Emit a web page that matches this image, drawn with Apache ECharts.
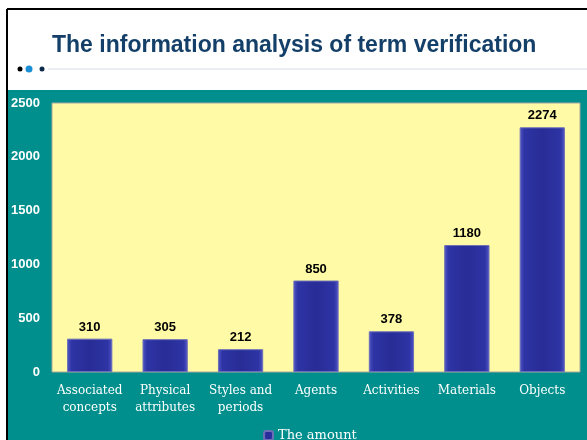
<!DOCTYPE html>
<html>
<head>
<meta charset="utf-8">
<script src="https://cdn.jsdelivr.net/npm/echarts@6/dist/echarts.min.js"></script>
<style>
  html, body { margin: 0; padding: 0; background: #fff; }
  #chart { width: 587px; height: 440px; }
</style>
</head>
<body>
<div id="chart"></div>
<script>
const categories = ['Associated\nconcepts', 'Physical\nattributes', 'Styles and\nperiods', 'Agents', 'Activities', 'Materials', 'Objects'];
const amounts = [310, 305, 212, 850, 378, 1180, 2274];
const yTicks = [0, 500, 1000, 1500, 2000, 2500];

const chart = echarts.init(document.getElementById('chart'));

const barColor = new echarts.graphic.LinearGradient(0, 0, 1, 0, [
    { offset: 0, color: '#5257c8' },
    { offset: 0.1, color: '#2e34a4' },
    { offset: 0.5, color: '#272c96' },
    { offset: 0.9, color: '#2e34a4' },
    { offset: 1, color: '#5257c8' }
]);

const option = {
    backgroundColor: '#ffffff',
    animation: false,
    graphic: [
        // teal panel
        { type: 'rect', z: -10, shape: { x: 8, y: 90, width: 579, height: 350 }, style: { fill: '#008f8c' } },
        // frame lines
        { type: 'line', shape: { x1: 7, y1: 9, x2: 587, y2: 9 }, style: { stroke: '#000', lineWidth: 2 } },
        { type: 'line', shape: { x1: 7, y1: 9, x2: 7, y2: 440 }, style: { stroke: '#000', lineWidth: 2 } },
        // title
        { type: 'text', left: 52, top: 34, style: { text: 'The information analysis of term verification', font: 'bold 23px "Liberation Sans", Arial, sans-serif', fill: '#133f68' } },
        // separator line and dots
        { type: 'line', shape: { x1: 48, y1: 69, x2: 587, y2: 69 }, style: { stroke: '#d5dbe3', lineWidth: 1 } },
        { type: 'circle', shape: { cx: 20, cy: 69, r: 2.5 }, style: { fill: '#000' } },
        { type: 'circle', shape: { cx: 29, cy: 69, r: 3.5 }, style: { fill: '#1a8fd6' } },
        { type: 'circle', shape: { cx: 42, cy: 69, r: 2.5 }, style: { fill: '#0d2a4a' } }
    ],
    grid: {
        left: 52, right: 7, top: 103, bottom: 68,
        show: true, backgroundColor: '#fffaa6', borderColor: '#a8a8a0', borderWidth: 1,
        containLabel: false
    },
    legend: {
        top: 424, left: 258,
        itemWidth: 9, itemHeight: 9, itemGap: 4,
        textStyle: { color: '#fff', fontFamily: '"DejaVu Serif", serif', fontSize: 13 },
        data: ['The amount']
    },
    xAxis: {
        type: 'category',
        data: categories,
        axisLine: { show: false },
        axisTick: { show: false },
        axisLabel: {
            color: '#fff', fontFamily: '"DejaVu Serif", serif', fontSize: 12,
            lineHeight: 17, margin: 10, interval: 0
        }
    },
    yAxis: {
        type: 'value',
        min: yTicks[0], max: yTicks[yTicks.length - 1], interval: 500,
        splitLine: { show: false },
        axisLine: { show: false },
        axisTick: { show: false },
        axisLabel: {
            color: '#fff', fontWeight: 'bold', fontSize: 13,
            fontFamily: '"Liberation Sans Narrow", "Liberation Sans", sans-serif',
            margin: 12,
            formatter: (v) => String(v)
        }
    },
    series: [{
        name: 'The amount',
        type: 'bar',
        data: amounts,
        barWidth: '60%',
        itemStyle: { color: barColor, borderColor: '#6b6fb8', borderWidth: 1 },
        label: {
            show: true, position: 'top', distance: 5,
            color: '#000', fontWeight: 'bold', fontSize: 13,
            fontFamily: '"Liberation Sans Narrow", "Liberation Sans", sans-serif'
        }
    }]
};

chart.setOption(option);
window.addEventListener('resize', () => chart.resize());
</script>
</body>
</html>
